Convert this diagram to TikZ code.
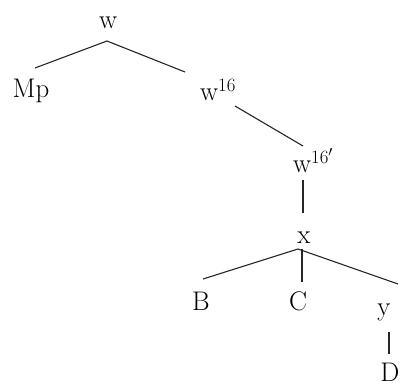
\documentclass[tikz,border=0pt]{standalone}
\usetikzlibrary{calc}
\begin{document}
\begin{tikzpicture}[x=1bp,y=-1bp,
  lab/.style={inner sep=0pt,font=\fontsize{27}{30}\selectfont},
  edge/.style={line width=1.1bp,black!85}]
\useasboundingbox (0,0) rectangle (403,385);
\node[lab,anchor=base] (w) at (108,28) {w};
\node[lab,anchor=base] (Mp) at (31,97) {Mp};
\node[lab,anchor=base west] (w16) at (200,100) {w\textsuperscript{16}};
\node[lab,anchor=base west] (w16p) at (293,172) {w\textsuperscript{16$'$}};
\node[lab,anchor=base] (x) at (304,243) {x};
\node[lab,anchor=base] (B) at (201,310) {B};
\node[lab,anchor=base] (C) at (298,310) {C};
\node[lab,anchor=base] (y) at (384,315) {y};
\node[lab,anchor=base] (D) at (390,381) {D};
\draw[edge] ($(w.base)+(-1,13)$) -- ($(Mp.base)+(4,-29)$);
\draw[edge] ($(w.base)+(-1,13)$) -- ($(w16.base west)+(-15,-28)$);
\draw[edge] ($(w16.base west)+(35,6)$) -- ($(w16p.base west)+(10,-26)$);
\draw[edge] ($(w16p.base west)+(10,8)$) -- ($(x.base)+(-1,-30)$);
\draw[edge] ($(x.base)+(-6,6)$) -- ($(B.base)+(2,-31)$);
\draw[edge] ($(x.base)+(-2,6)$) -- ($(C.base)+(4,-28)$);
\draw[edge] ($(x.base)+(-6,6)$) -- ($(y.base)+(14,-31)$);
\draw[edge] ($(y.base)+(5,17)$) -- ($(D.base)+(-1,-27)$);
\end{tikzpicture}
\end{document}
